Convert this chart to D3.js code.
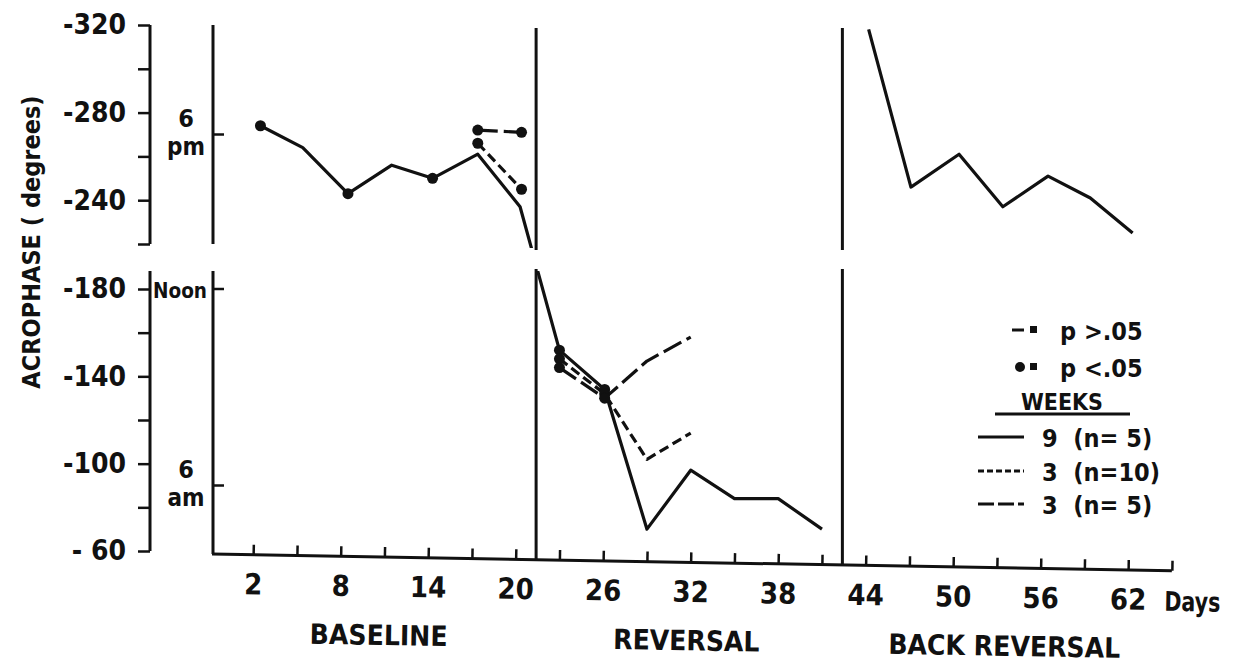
<!DOCTYPE html>
<html>
<head>
<meta charset="utf-8">
<script src="https://cdn.jsdelivr.net/npm/d3@7"></script>
<style>
  body { margin: 0; background: #fff; }
  svg text { font-family: "DejaVu Sans Condensed", "DejaVu Sans", sans-serif; fill: #111; }
</style>
</head>
<body>
<svg width="1234" height="666"></svg>
<script>
// --- data ---
const tickDays = [2, 5, 8, 11, 14, 17, 20, 23, 26, 29, 32, 35, 38, 41, 44, 47, 50, 53, 56, 59, 62, 65];
const labelDays = [2, 8, 14, 20, 26, 32, 38, 44, 50, 56, 62];
const upperTicks = [-320, -300, -280, -260, -240, -220];
const lowerTicks = [-180, -160, -140, -120, -100, -80, -60];
const labelledTicks = [-320, -280, -240, -180, -140, -100, -60];
const clockTicks = [-270, -180, -90];
const clockLabels = [["6", "pm"], ["Noon"], ["6", "am"]];
const phaseBreaks = [21.4, 42.4];
const phaseNames = ["BASELINE", "REVERSAL", "BACK REVERSAL"];
const phaseCenters = [10.7, 31.8, 53.6];

// 9 weeks (n = 5), solid; null = line not joined
const week9Days = [2.5, 5.4, 8.5, 11.5, 14.3, 17.4, 20.3, 23, 26.1, 29, 32, 35, 38, 41, 42.4, 44.2, 47.1, 50.4, 53.4, 56.5, 59.4, 62.3];
const week9Values = [-274, -264, -243, -256, -250, -261, -237, -152, -134, -70, -97, -84, -84, -70, null, -318, -246, -261, -237, -251, -241, -225];
const week9Signif = [1, 0, 1, 0, 1, 0, 0, 1, 1, 0, 0, 0, 0, 0, 0, 0, 0, 0, 0, 0, 0, 0];

// 3 weeks (n = 10), short dash
const week3aDays = [17.4, 20.4, 21.4, 23, 26.1, 29, 32];
const week3aValues = [-266, -245, null, -148, -132, -102, -114];
const week3aSignif = [1, 1, 0, 1, 1, 0, 0];

// 3 weeks (n = 5), long dash
const week3bDays = [17.4, 20.4, 21.4, 23, 26.1, 29, 32];
const week3bValues = [-272, -271, null, -144, -130, -147, -158];
const week3bSignif = [1, 1, 0, 1, 1, 0, 0];

const seriesNames = ["9  (n= 5)", "3  (n=10)", "3  (n= 5)"];
const seriesDash = [null, "10,5", "20,6"];

const series = [
  [week9Days, week9Values, week9Signif],
  [week3aDays, week3aValues, week3aSignif],
  [week3bDays, week3bValues, week3bSignif]
].map(([days, vals, sig], i) => ({
  name: seriesNames[i],
  dash: seriesDash[i],
  points: days.map((d, j) => ({ day: d, v: vals[j], sig: sig[j] }))
}));

// --- setup ---
const svg = d3.select("svg");
const width = +svg.attr("width");
const height = +svg.attr("height");
const ink = "#111";

const x = d3.scaleLinear().domain([0, 65]).range([224, 1172]);
// broken axis: -220..-180 squeezed into the gap
const y = d3.scaleLinear().domain([-320, -220, -180, -60]).range([25, 244, 289, 551]);
const yUpper = d3.scaleLinear().domain([-320, -220]).range([25, 244]);
const yLower = d3.scaleLinear().domain([-180, -60]).range([289, 551]);

const axisX = 150, innerX = 213, originY = 554, originX = 212;
const upperBottom = 248, lowerTop = 271;
const slope = Math.tan(Math.PI / 180); // the scanned day axis is tilted by ~1 degree

const fmt = d => labelledTicks.includes(d) ? (d === -60 ? "- 60" : "-" + Math.abs(d)) : "";

// left degree axis
[[yUpper, upperTicks], [yLower, lowerTicks]].forEach(([sc, tv]) => {
  const ax = svg.append("g").attr("transform", `translate(${axisX},0)`)
    .call(d3.axisLeft(sc).tickValues(tv).tickSize(12).tickPadding(12).tickFormat(fmt));
  ax.select(".domain").remove();
  ax.selectAll("line").attr("stroke", ink).attr("stroke-width", 2.5);
  ax.selectAll("text").attr("font-size", 28).attr("font-weight", "bold").attr("fill", ink);
});
svg.append("line").attr("x1", axisX).attr("x2", axisX).attr("y1", yUpper(-320)).attr("y2", yUpper(-220))
  .attr("stroke", ink).attr("stroke-width", 3);
svg.append("line").attr("x1", axisX).attr("x2", axisX).attr("y1", lowerTop).attr("y2", yLower(-60))
  .attr("stroke", ink).attr("stroke-width", 3);

// inner clock-time axis
svg.append("line").attr("x1", innerX).attr("x2", innerX).attr("y1", 25).attr("y2", 244)
  .attr("stroke", ink).attr("stroke-width", 3);
svg.append("line").attr("x1", innerX).attr("x2", innerX).attr("y1", lowerTop).attr("y2", originY)
  .attr("stroke", ink).attr("stroke-width", 3);
clockTicks.forEach((t, i) => {
  const ty = y(t);
  svg.append("line").attr("x1", innerX).attr("x2", innerX + 11).attr("y1", ty).attr("y2", ty)
    .attr("stroke", ink).attr("stroke-width", 2.5);
  const lab = clockLabels[i];
  if (lab.length === 1) {
    svg.append("text").attr("x", innerX - 6).attr("y", ty + 9).attr("text-anchor", "end")
      .attr("font-size", 22).attr("font-weight", "bold")
      .attr("textLength", 54).attr("lengthAdjust", "spacingAndGlyphs").text(lab[0]);
  } else {
    svg.append("text").attr("x", 186).attr("y", ty - 8).attr("text-anchor", "middle")
      .attr("font-size", 25).attr("font-weight", "bold").text(lab[0]);
    svg.append("text").attr("x", 186).attr("y", ty + 20).attr("text-anchor", "middle")
      .attr("font-size", 24).attr("font-weight", "bold").text(lab[1]);
  }
});

// axis title
svg.append("text").attr("transform", "translate(40,242) rotate(-90)").attr("text-anchor", "middle")
  .attr("font-size", 25).attr("font-weight", "bold").text("ACROPHASE ( degrees)");

// day axis (tilted like the scan)
const xg = svg.append("g").attr("transform", `rotate(1,${originX},${originY})`);
const xa = xg.append("g").attr("transform", `translate(0,${originY})`)
  .call(d3.axisBottom(x).tickValues(tickDays).tickSizeInner(-10).tickSizeOuter(0).tickPadding(19)
    .tickFormat(d => labelDays.includes(d) ? d : ""));
xa.select(".domain").remove();
xa.selectAll("line").attr("stroke", ink).attr("stroke-width", 2.5);
xa.selectAll("text").attr("font-size", 29).attr("font-weight", "bold").attr("fill", ink);
xg.append("line").attr("x1", originX).attr("x2", x(65)).attr("y1", originY).attr("y2", originY)
  .attr("stroke", ink).attr("stroke-width", 3);
xg.append("text").attr("x", x(65) - 7).attr("y", originY + 40).attr("font-size", 27)
  .attr("font-weight", "bold").attr("textLength", 56).attr("lengthAdjust", "spacingAndGlyphs")
  .text("Days");
phaseNames.forEach((n, i) => {
  xg.append("text").attr("x", x(phaseCenters[i])).attr("y", 642).attr("text-anchor", "middle")
    .attr("font-size", 28).attr("font-weight", "bold").text(n);
});

// phase boundaries
phaseBreaks.forEach(d => {
  const px = x(d);
  svg.append("line").attr("x1", px).attr("x2", px).attr("y1", 28).attr("y2", upperBottom + 2)
    .attr("stroke", ink).attr("stroke-width", 3);
  svg.append("line").attr("x1", px).attr("x2", px).attr("y1", lowerTop - 2)
    .attr("y2", originY + (px - originX) * slope)
    .attr("stroke", ink).attr("stroke-width", 3);
});

// clip regions for the two halves of the broken axis
const defs = svg.append("defs");
defs.append("clipPath").attr("id", "clipU").append("rect")
  .attr("x", 0).attr("y", 0).attr("width", width).attr("height", upperBottom);
defs.append("clipPath").attr("id", "clipL").append("rect")
  .attr("x", 0).attr("y", lowerTop).attr("width", width).attr("height", height - lowerTop);

const line = d3.line().defined(d => d.v !== null).x(d => x(d.day)).y(d => y(d.v));

["clipU", "clipL"].forEach(id => {
  const g = svg.append("g").attr("clip-path", `url(#${id})`);
  series.forEach(s => {
    g.append("path").attr("d", line(s.points)).attr("fill", "none")
      .attr("stroke", ink).attr("stroke-width", 3.2)
      .attr("stroke-dasharray", s.dash)
      .attr("stroke-linejoin", "round");
    g.selectAll(null).data(s.points.filter(p => p.sig && p.v !== null)).enter()
      .append("circle").attr("cx", p => x(p.day)).attr("cy", p => y(p.v)).attr("r", 5.5)
      .attr("fill", ink);
  });
});

// legend
const lg = svg.append("g");
lg.append("line").attr("x1", 1012).attr("x2", 1024).attr("y1", 330).attr("y2", 330)
  .attr("stroke", ink).attr("stroke-width", 3);
lg.append("rect").attr("x", 1030).attr("y", 326).attr("width", 7).attr("height", 7).attr("fill", ink);
lg.append("text").attr("x", 1060).attr("y", 340).attr("font-size", 25).attr("font-weight", "bold")
  .text("p >.05");
lg.append("circle").attr("cx", 1020).attr("cy", 367).attr("r", 5).attr("fill", ink);
lg.append("rect").attr("x", 1030).attr("y", 363).attr("width", 7).attr("height", 7).attr("fill", ink);
lg.append("text").attr("x", 1060).attr("y", 377).attr("font-size", 25).attr("font-weight", "bold")
  .text("p <.05");
lg.append("text").attr("x", 1062).attr("y", 410).attr("text-anchor", "middle").attr("font-size", 23)
  .attr("font-weight", "bold").text("WEEKS");
lg.append("line").attr("x1", 995).attr("x2", 1130).attr("y1", 414).attr("y2", 414)
  .attr("stroke", ink).attr("stroke-width", 3);
const legendY = [437, 471, 504];
series.forEach((s, i) => {
  lg.append("line").attr("x1", 978).attr("x2", 1024).attr("y1", legendY[i]).attr("y2", legendY[i])
    .attr("stroke", ink).attr("stroke-width", 3)
    .attr("stroke-dasharray", i === 0 ? null : (i === 1 ? "6,3" : "16,4"));
  lg.append("text").attr("x", 1042).attr("y", legendY[i] + 10).attr("font-size", 25)
    .attr("font-weight", "bold").attr("xml:space", "preserve").style("white-space", "pre")
    .text(s.name);
});
</script>
</body>
</html>
